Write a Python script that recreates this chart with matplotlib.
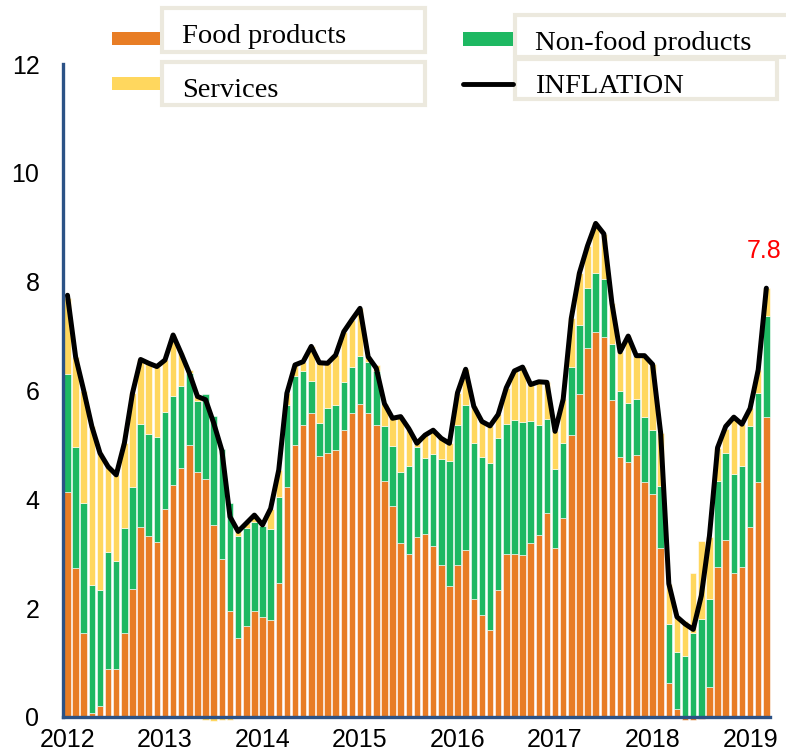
import numpy as np
import matplotlib
matplotlib.use("Agg")
import matplotlib.pyplot as plt
from matplotlib.patches import Rectangle
from matplotlib.lines import Line2D

# contributions to CPI inflation, monthly Jan 2012 - Mar 2019
years = ['2012', '2013', '2014', '2015', '2016', '2017', '2018', '2019']

food = [4.14, 2.74, 1.54, 0.08, 0.20, 0.89, 0.89, 1.54, 2.35, 3.50, 3.33, 3.21,
        3.82, 4.26, 4.57, 4.99, 4.51, 4.38, 3.52, 2.91, 1.94, 1.45, 1.68, 1.94,
        1.84, 1.78, 2.47, 4.23, 4.99, 5.37, 5.58, 4.80, 4.85, 4.91, 5.27, 5.59,
        5.75, 5.59, 5.37, 4.34, 3.88, 3.19, 2.99, 3.31, 3.36, 3.14, 2.79, 2.40,
        2.80, 3.06, 2.17, 1.87, 1.59, 2.34, 2.99, 3.00, 2.98, 3.19, 3.35, 3.75,
        3.10, 3.65, 5.18, 5.93, 6.79, 7.08, 6.98, 5.82, 4.77, 4.68, 4.82, 4.31,
        4.10, 3.10, 0.62, 0.15, -0.05, -0.05, -0.03, 0.55, 2.75, 3.25, 2.65, 2.75,
        3.49, 4.31, 5.52]

nonfood = [2.16, 2.23, 2.39, 2.35, 2.13, 2.15, 1.98, 1.93, 1.87, 1.88, 1.87, 1.94,
           1.79, 1.64, 1.51, 1.33, 1.30, 1.56, 2.01, 2.01, 1.99, 1.88, 1.80, 1.65,
           1.67, 1.67, 1.57, 1.50, 1.28, 0.98, 0.59, 0.60, 0.82, 0.82, 0.89, 0.84,
           0.88, 0.94, 0.99, 1.00, 1.10, 1.32, 1.62, 1.66, 1.40, 1.70, 1.96, 2.30,
           2.57, 2.68, 2.87, 2.91, 3.07, 2.79, 2.40, 2.46, 2.44, 2.25, 2.02, 1.72,
           1.46, 1.38, 1.25, 1.28, 1.09, 1.08, 1.06, 1.04, 1.22, 1.09, 1.03, 1.21,
           1.17, 1.14, 1.09, 1.05, 1.12, 1.55, 1.80, 1.62, 1.59, 1.61, 1.82, 1.87,
           1.85, 1.65, 1.84]

services = [1.40, 1.65, 2.07, 2.91, 2.52, 1.56, 1.58, 1.56, 1.73, 1.19, 1.30, 1.29,
            0.95, 1.12, 0.60, 0.05, 0.08, -0.06, -0.08, -0.05, -0.06, 0.08, 0.08, 0.12,
            0.02, 0.38, 0.50, 0.22, 0.20, 0.18, 0.64, 1.11, 0.83, 0.92, 0.92, 0.87,
            0.88, 0.09, 0.10, 0.42, 0.51, 1.01, 0.69, 0.10, 0.42, 0.43, 0.37, 0.33,
            0.59, 0.65, 0.67, 0.65, 0.69, 0.43, 0.66, 0.90, 1.01, 0.67, 0.79, 0.68,
            0.69, 0.81, 0.90, 0.95, 0.78, 0.91, 0.84, 0.74, 0.72, 1.23, 0.79, 1.12,
            1.21, 0.97, 0.74, 0.64, 0.65, 1.10, 1.43, 1.13, 0.61, 0.44, 1.03, 0.76,
            0.33, 0.42, 0.52]

inflation = [7.75, 6.62, 6.00, 5.34, 4.85, 4.60, 4.45, 5.03, 5.95, 6.57, 6.50, 6.44,
             6.56, 7.02, 6.68, 6.32, 5.89, 5.83, 5.40, 4.90, 3.68, 3.41, 3.56, 3.71,
             3.53, 3.83, 4.54, 5.95, 6.47, 6.53, 6.81, 6.51, 6.50, 6.65, 7.08, 7.30,
             7.51, 6.62, 6.41, 5.76, 5.49, 5.52, 5.30, 5.03, 5.18, 5.27, 5.12, 5.03,
             5.96, 6.39, 5.71, 5.43, 5.35, 5.56, 6.05, 6.36, 6.43, 6.11, 6.16, 6.15,
             5.25, 5.84, 7.33, 8.16, 8.66, 9.07, 8.88, 7.60, 6.71, 7.00, 6.64, 6.64,
             6.48, 5.21, 2.45, 1.84, 1.71, 1.61, 2.23, 3.33, 4.95, 5.34, 5.51, 5.38,
             5.67, 6.38, 7.88]
last_label = "7.8"

ORANGE = '#E87D25'
GREEN = '#1EB862'
YELLOW = '#FFD75E'
AXIS_BLUE = '#2B5286'
BOX = '#ECE9DE'

W, H = 786, 754
fig = plt.figure(figsize=(W / 100, H / 100), dpi=100)
ax = fig.add_axes([63 / W, 1 - 717 / H, 707 / W, 653 / H])

x = np.arange(len(food))
pos = np.zeros(len(x))
neg = np.zeros(len(x))
for vals, col in [(food, ORANGE), (nonfood, GREEN), (services, YELLOW)]:
    v = np.array(vals)
    bottom = np.where(v >= 0, pos, neg)
    ax.bar(x, v, bottom=bottom, width=0.8, color=col, edgecolor='white',
           linewidth=0.4, clip_on=False, zorder=2)
    pos += np.clip(v, 0, None)
    neg += np.clip(v, None, 0)

ax.plot(x, inflation, color='black', lw=3.6, zorder=3,
        solid_joinstyle='round', solid_capstyle='round')
# last value label, kept inside the figure
ax.annotate(last_label, xy=(x[-1], inflation[-1]), xytext=(-14, 27),
            textcoords='offset points', color='red', fontsize=18,
            family='Liberation Sans', ha='left', va='center', annotation_clip=False)

ax.set_xlim(-0.55, len(x) - 0.55)
ax.set_ylim(0, 12)
ax.set_yticks(range(0, 13, 2))
ax.set_xticks(x[::12])
ax.set_xticklabels(years)
for lab in ax.get_xticklabels() + ax.get_yticklabels():
    lab.set_fontfamily('Liberation Sans')
    lab.set_fontsize(18)
ax.tick_params(axis='both', length=0)
ax.tick_params(axis='y', pad=17)
ax.tick_params(axis='x', pad=8)
for s in ['top', 'right']:
    ax.spines[s].set_visible(False)
for s in ['left', 'bottom']:
    ax.spines[s].set_color(AXIS_BLUE)
    ax.spines[s].set_linewidth(2.4)
    ax.spines[s].set_zorder(4)


def px_rect(x0, y0, x1, y1, **kw):
    r = Rectangle((x0 / W, 1 - y1 / H), (x1 - x0) / W, (y1 - y0) / H,
                  transform=fig.transFigure, **kw)
    fig.add_artist(r)


def px_text(x0, y0, s):
    fig.text(x0 / W, 1 - y0 / H, s, family='Liberation Serif', fontsize=20.5,
             ha='left', va='baseline')


# legend drawn as separate boxes, like the source
px_rect(162, 8, 425, 52, fill=False, edgecolor=BOX, lw=3)
px_rect(162, 62, 425, 105, fill=False, edgecolor=BOX, lw=3)
px_rect(515, 15, 792, 57, fill=False, edgecolor=BOX, lw=3)
px_rect(515, 59, 777, 99, fill=False, edgecolor=BOX, lw=3)

px_rect(112, 32, 160, 45, color=ORANGE, lw=0)
px_rect(112, 77, 160, 90, color=YELLOW, lw=0)
px_rect(463, 32, 513, 46, color=GREEN, lw=0)
fig.add_artist(Line2D([463 / W, 513 / W], [1 - 84 / H, 1 - 84 / H],
                      transform=fig.transFigure, color='black', lw=3.5,
                      solid_capstyle='round'))

px_text(182, 43, 'Food products')
px_text(182, 97, 'Services')
px_text(535, 50, 'Non-food products')
px_text(535, 93, 'INFLATION')

fig.savefig('out.png', dpi=100)
